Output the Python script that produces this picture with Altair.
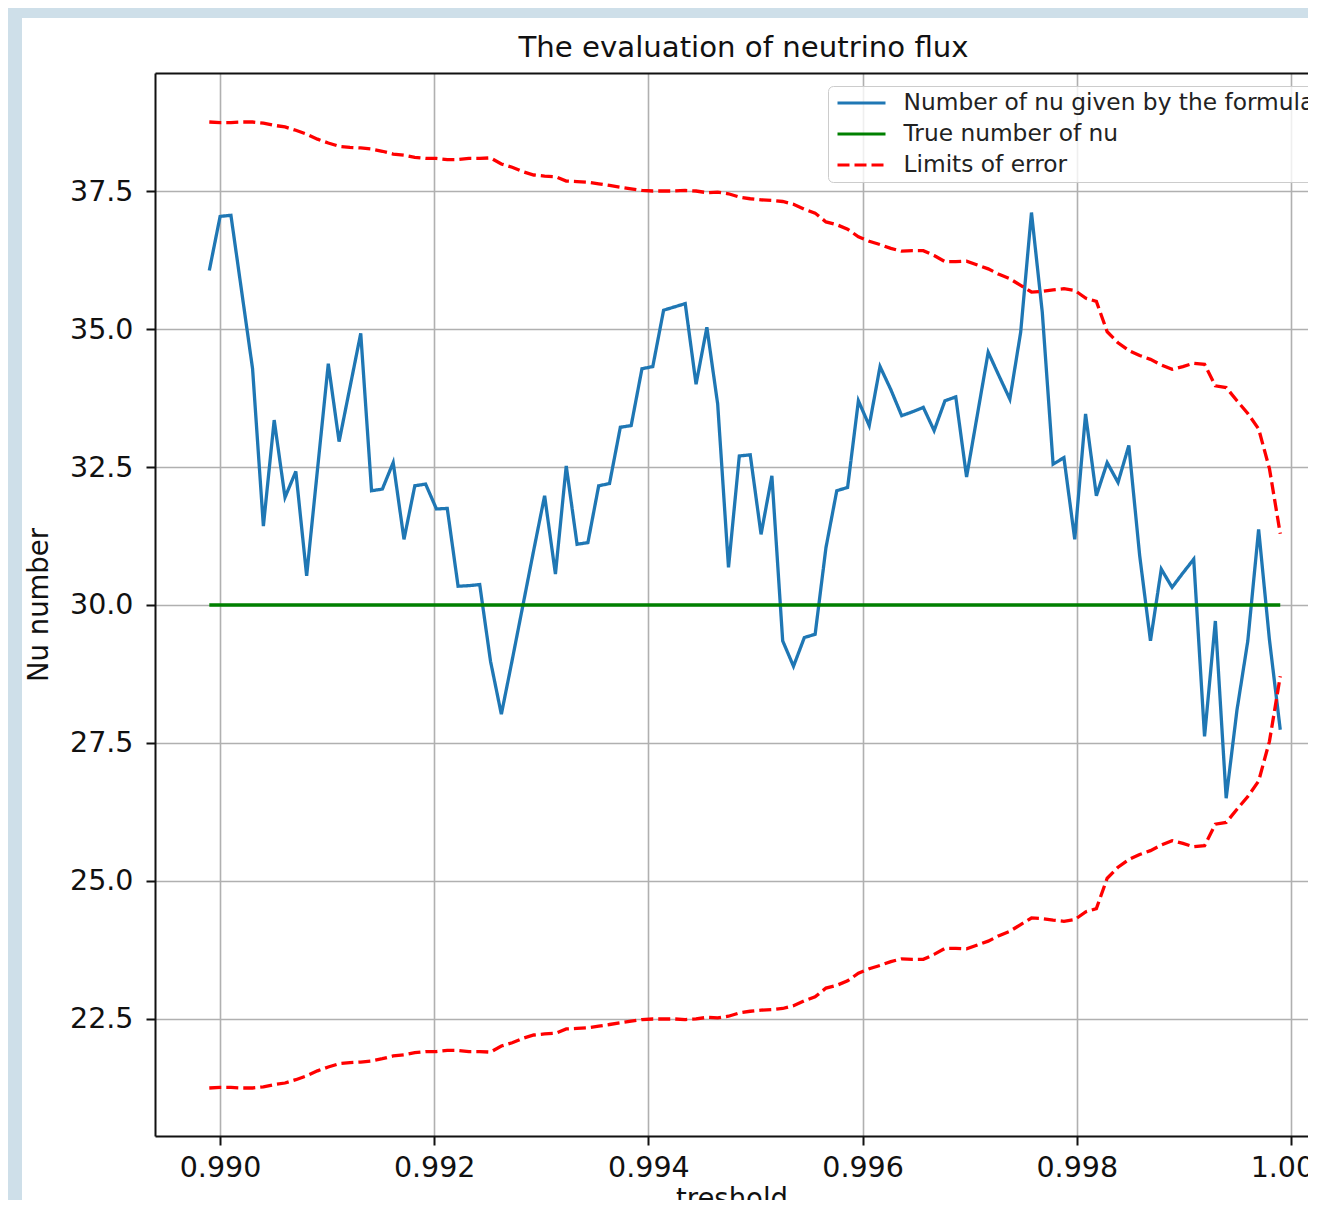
import altair as alt
import pandas as pd

# ---- data ----
thresholds = [
    0.989900, 0.990001, 0.990102, 0.990203, 0.990304, 0.990405, 0.990506, 0.990607, 0.990708, 0.990809,
    0.990910, 0.991011, 0.991112, 0.991213, 0.991314, 0.991415, 0.991516, 0.991617, 0.991718, 0.991819,
    0.991920, 0.992021, 0.992122, 0.992223, 0.992324, 0.992425, 0.992526, 0.992627, 0.992728, 0.992829,
    0.992930, 0.993031, 0.993132, 0.993233, 0.993334, 0.993435, 0.993536, 0.993637, 0.993738, 0.993839,
    0.993940, 0.994041, 0.994142, 0.994243, 0.994344, 0.994445, 0.994546, 0.994647, 0.994748, 0.994849,
    0.994951, 0.995052, 0.995153, 0.995254, 0.995355, 0.995456, 0.995557, 0.995658, 0.995759, 0.995860,
    0.995961, 0.996062, 0.996163, 0.996264, 0.996365, 0.996466, 0.996567, 0.996668, 0.996769, 0.996870,
    0.996971, 0.997072, 0.997173, 0.997274, 0.997375, 0.997476, 0.997577, 0.997678, 0.997779, 0.997880,
    0.997981, 0.998082, 0.998183, 0.998284, 0.998385, 0.998486, 0.998587, 0.998688, 0.998789, 0.998890,
    0.998991, 0.999092, 0.999193, 0.999294, 0.999395, 0.999496, 0.999597, 0.999698, 0.999799, 0.999900,
]

nu_formula = [
    36.06, 37.04, 37.06, 35.67, 34.28, 31.43, 33.35, 31.95, 32.42, 30.53,
    32.45, 34.37, 32.96, 33.94, 34.92, 32.07, 32.10, 32.58, 31.19, 32.16,
    32.19, 31.74, 31.75, 30.34, 30.35, 30.37, 28.98, 28.02, 29.00, 30.00,
    31.00, 31.98, 30.56, 32.52, 31.10, 31.13, 32.16, 32.20, 33.22, 33.25,
    34.28, 34.32, 35.34, 35.40, 35.46, 34.00, 35.03, 33.64, 30.68, 32.70,
    32.72, 31.28, 32.34, 29.35, 28.89, 29.41, 29.47, 31.04, 32.07, 32.13,
    33.70, 33.25, 34.32, 33.90, 33.43, 33.50, 33.58, 33.16, 33.70, 33.77,
    32.32, 33.45, 34.58, 34.15, 33.73, 34.94, 37.11, 35.30, 32.55, 32.67,
    31.19, 33.46, 31.98, 32.58, 32.22, 32.89, 30.90, 29.35, 30.65, 30.32,
    30.58, 30.83, 27.62, 29.71, 26.50, 28.10, 29.35, 31.37, 29.37, 27.74,
]

limit_upper = [
    38.75, 38.74, 38.74, 38.75, 38.75, 38.73, 38.69, 38.66, 38.60, 38.53,
    38.44, 38.37, 38.31, 38.29, 38.28, 38.26, 38.22, 38.17, 38.15, 38.11,
    38.09, 38.09, 38.07, 38.07, 38.09, 38.09, 38.10, 37.99, 37.93, 37.85,
    37.79, 37.77, 37.76, 37.68, 37.67, 37.66, 37.63, 37.60, 37.57, 37.54,
    37.51, 37.50, 37.50, 37.50, 37.51, 37.50, 37.47, 37.48, 37.45, 37.39,
    37.36, 37.34, 37.33, 37.31, 37.26, 37.17, 37.10, 36.94, 36.89, 36.81,
    36.67, 36.59, 36.53, 36.46, 36.41, 36.42, 36.42, 36.33, 36.22, 36.22,
    36.23, 36.16, 36.09, 35.99, 35.91, 35.79, 35.67, 35.68, 35.71, 35.73,
    35.70, 35.56, 35.50, 34.95, 34.75, 34.61, 34.52, 34.45, 34.35, 34.27,
    34.32, 34.38, 34.36, 33.97, 33.94, 33.70, 33.47, 33.19, 32.47, 31.29,
]

limit_lower = [
    21.25, 21.26, 21.26, 21.25, 21.25, 21.27, 21.31, 21.34, 21.40, 21.47,
    21.56, 21.63, 21.69, 21.71, 21.72, 21.74, 21.78, 21.83, 21.85, 21.89,
    21.91, 21.91, 21.93, 21.93, 21.91, 21.91, 21.90, 22.01, 22.07, 22.15,
    22.21, 22.23, 22.24, 22.32, 22.33, 22.34, 22.37, 22.40, 22.43, 22.46,
    22.49, 22.50, 22.50, 22.50, 22.49, 22.50, 22.53, 22.52, 22.55, 22.61,
    22.64, 22.66, 22.67, 22.69, 22.74, 22.83, 22.90, 23.06, 23.11, 23.19,
    23.33, 23.41, 23.47, 23.54, 23.59, 23.58, 23.58, 23.67, 23.78, 23.78,
    23.77, 23.84, 23.91, 24.01, 24.09, 24.21, 24.33, 24.32, 24.29, 24.27,
    24.30, 24.44, 24.50, 25.05, 25.25, 25.39, 25.48, 25.55, 25.65, 25.73,
    25.68, 25.62, 25.64, 26.03, 26.06, 26.30, 26.53, 26.81, 27.53, 28.71,
]

true_x = [0.989900, 0.999900]
true_nu = [30.0, 30.0]

series_names = ["Number of nu given by the formula", "True number of nu", "Limits of error"]
series_colors = ["#1f77b4", "#008000", "#ff0000"]
series_dashes = [[1, 0], [1, 0], [12, 5]]

x_ticks = [0.990, 0.992, 0.994, 0.996, 0.998, 1.000]
y_ticks = [22.5, 25.0, 27.5, 30.0, 32.5, 35.0, 37.5]

title_text = "The evaluation of neutrino flux"
x_title = "treshold"
y_title = "Nu number"

# ---- long table ----
rows = []
for t, v in zip(thresholds, nu_formula):
    rows.append({"threshold": t, "value": v, "series": series_names[0], "part": "formula"})
for t, v in zip(true_x, true_nu):
    rows.append({"threshold": t, "value": v, "series": series_names[1], "part": "true"})
for t, v in zip(thresholds, limit_upper):
    rows.append({"threshold": t, "value": v, "series": series_names[2], "part": "upper"})
for t, v in zip(thresholds, limit_lower):
    rows.append({"threshold": t, "value": v, "series": series_names[2], "part": "lower"})
df = pd.DataFrame(rows)

W, H = 1153, 1063
FONT = "DejaVu Sans"
BG_BLUE = "#cedfe9"

x_scale = alt.Scale(domain=[0.989393, 1.000159], nice=False, zero=False)
y_scale = alt.Scale(domain=[20.38, 39.638], nice=False, zero=False)

legend = alt.Legend(
    title=None,
    orient="none",
    legendX=673,
    legendY=13,
    symbolType="M-1,0H3.8",
    symbolSize=400,
    symbolStrokeWidth=3.2,
    symbolOffset=2.5,
    labelOffset=44,
    labelFont=FONT,
    labelFontSize=23.3,
    labelColor="#222222",
    rowPadding=7,
    padding=5,
    fillColor="rgba(255,255,255,0.8)",
    strokeColor="#cccccc",
    cornerRadius=5,
    labelLimit=0,
)

lines = alt.Chart(df).mark_line(strokeWidth=3.3, clip=True).encode(
    x=alt.X(
        "threshold:Q",
        scale=x_scale,
        axis=alt.Axis(
            orient="bottom",
            values=x_ticks,
            format=".3f",
            title=x_title,
            labelFlush=False,
            labelPadding=8,
            tickSize=9,
            titlePadding=4,
        ),
    ),
    y=alt.Y(
        "value:Q",
        scale=y_scale,
        axis=alt.Axis(
            orient="left",
            values=y_ticks,
            format=".1f",
            title=y_title,
            labelFlush=False,
            labelPadding=13,
            tickSize=9,
            titlePadding=16,
        ),
    ),
    color=alt.Color(
        "series:N",
        scale=alt.Scale(domain=series_names, range=series_colors),
        legend=legend,
    ),
    strokeDash=alt.StrokeDash(
        "series:N",
        scale=alt.Scale(domain=series_names, range=series_dashes),
        legend=legend,
    ),
    detail="part:N",
)

# invisible layer that only carries the top spine (upper axis line)
top_spine = alt.Chart(df).mark_point(opacity=0).encode(
    x=alt.X(
        "threshold:Q",
        scale=x_scale,
        axis=alt.Axis(orient="top", labels=False, ticks=False, grid=False, title=None,
                      domain=True, domainColor="#111111", domainWidth=2),
    ),
)

frame_df = pd.DataFrame({"strip": ["left", "top"]})
left_strip = alt.Chart(frame_df).transform_filter(alt.datum.strip == "left").mark_rect(
    color=BG_BLUE
).encode(x=alt.value(-147), x2=alt.value(-133), y=alt.value(-65), y2=alt.value(H + 70))
top_strip = alt.Chart(frame_df).transform_filter(alt.datum.strip == "top").mark_rect(
    color=BG_BLUE
).encode(x=alt.value(-147), x2=alt.value(W + 10), y=alt.value(-65), y2=alt.value(-55))

chart = (
    alt.layer(left_strip, top_strip, lines, top_spine)
    .resolve_axis(x="independent")
    .properties(
        width=W,
        height=H,
        title=alt.TitleParams(
            text=title_text,
            font=FONT,
            fontSize=29.2,
            fontWeight="normal",
            color="#111111",
            anchor="middle",
            frame="group",
            dx=12,
            dy=92,
            baseline="alphabetic",
            offset=14,
        ),
        autosize=alt.AutoSizeParams(type="none"),
        padding={"left": 147, "top": 65, "right": 0, "bottom": 64},
        background="white",
    )
    .configure_view(stroke=None)
    .configure_axis(
        labelFont=FONT,
        labelFontSize=28.5,
        labelColor="#111111",
        titleFont=FONT,
        titleFontSize=27.5,
        titleFontWeight="normal",
        titleColor="#111111",
        domainColor="#111111",
        domainWidth=2,
        tickColor="#111111",
        tickWidth=2,
        gridColor="#b0b0b0",
        gridWidth=1.6,
    )
)

chart.save("out.html", embed_options={"renderer": "svg", "actions": False})
